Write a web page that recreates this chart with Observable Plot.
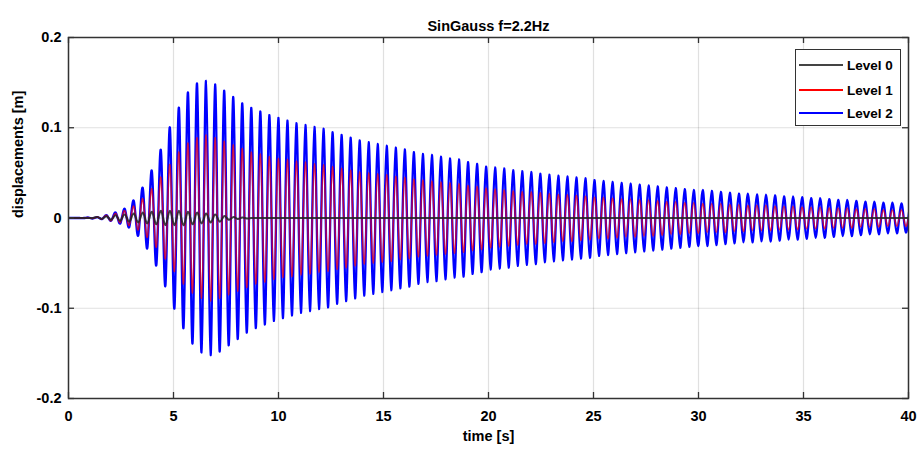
<!DOCTYPE html>
<html>
<head>
<meta charset="utf-8">
<script src="https://cdn.jsdelivr.net/npm/d3@7"></script>
<script src="https://cdn.jsdelivr.net/npm/@observablehq/plot@0.6"></script>
<style>
  html, body { margin: 0; padding: 0; background: #fff; }
  #wrap { position: relative; width: 924px; height: 464px; font-family: "Liberation Sans", Arial, sans-serif; }
  #legend { position: absolute; left: 795px; top: 49px; width: 106px; height: 77px; border: 1.5px solid #333; background: #fff; box-sizing: border-box; }
  .row { position: absolute; left: 3px; height: 20px; display: flex; align-items: center; }
  .sw { width: 44px; height: 2px; margin-right: 4px; }
  .lab { font-weight: bold; font-size: 13.5px; color: #000; }
</style>
</head>
<body>
<div id="wrap"></div>
<script>
// ---- data ----
const titleText = "SinGauss f=2.2Hz";
const xLabel = "time [s]";
const yLabel = "displacements [m]";
const seriesNames = ["Level 0", "Level 1", "Level 2"];
const seriesColors = ["#000000", "#ff0000", "#0000ff"];
const xTicks = [0, 5, 10, 15, 20, 25, 30, 35, 40];
const yTicks = [-0.2, -0.1, 0, 0.1, 0.2];
const yTickLabels = ["-0.2", "-0.1", "0", "0.1", "0.2"];

// oscillation: first positive peak time and period (s)
const firstPeak = 0.1;
const period = 0.43;

// peak amplitude of each cycle (m)
const level2Amp = [0,0,0.0005,0.001,0.003,0.006,0.010,0.019,0.033,0.052,
 0.075,0.100,0.122,0.139,0.149,0.152,0.148,0.141,0.134,0.127,
 0.122,0.118,0.114,0.111,0.108,0.105,0.103,0.101,0.099,0.095,
 0.092,0.089,0.086,0.084,0.082,0.080,0.078,0.076,0.073,0.071,
 0.070,0.068,0.066,0.065,0.062,0.060,0.057,0.056,0.055,0.053,
 0.052,0.051,0.049,0.048,0.047,0.046,0.045,0.044,0.042,0.041,
 0.040,0.039,0.038,0.037,0.036,0.035,0.034,0.033,0.032,0.031,
 0.031,0.030,0.029,0.028,0.027,0.027,0.026,0.026,0.025,0.024,
 0.024,0.023,0.022,0.022,0.021,0.020,0.020,0.019,0.018,0.018,
 0.017,0.017,0.016,0.016];
const level1Amp = [0,0,0.0004,0.001,0.003,0.005,0.008,0.013,0.021,0.032,
 0.045,0.059,0.073,0.083,0.089,0.092,0.089,0.085,0.081,0.077,
 0.073,0.071,0.068,0.066,0.065,0.063,0.062,0.060,0.059,0.057,
 0.055,0.053,0.051,0.050,0.049,0.048,0.046,0.045,0.043,0.042,
 0.041,0.040,0.039,0.038,0.036,0.035,0.033,0.032,0.031,0.030,
 0.029,0.029,0.028,0.027,0.026,0.026,0.025,0.024,0.023,0.023,
 0.022,0.021,0.021,0.020,0.020,0.019,0.018,0.018,0.017,0.017,
 0.016,0.016,0.016,0.015,0.015,0.014,0.014,0.014,0.013,0.013,
 0.013,0.012,0.012,0.012,0.011,0.011,0.011,0.010,0.010,0.010,
 0.009,0.009,0.009,0.009];
const level0Amp = [0,0,0,0.001,0.002,0.003,0.004,0.005,0.006,0.007,
 0.008,0.008,0.008,0.007,0.006,0.005,0.004,0.002,0.001,0.0005,
 0,0,0,0,0,0,0,0,0,0,
 0,0,0,0,0,0,0,0,0,0,
 0,0,0,0,0,0,0,0,0,0,
 0,0,0,0,0,0,0,0,0,0,
 0,0,0,0,0,0,0,0,0,0,
 0,0,0,0,0,0,0,0,0,0,
 0,0,0,0,0,0,0,0,0,0,
 0,0,0,0];

// build peak/trough table for each series
function toRows(amps, name) {
  const rows = [{t: 0, v: 0, s: name}];
  amps.forEach((a, k) => {
    rows.push({t: firstPeak + k * period, v: a, s: name});
    rows.push({t: firstPeak + (k + 0.5) * period, v: -a, s: name});
  });
  return rows;
}
const rows2 = toRows(level2Amp, seriesNames[2]);
const rows1 = toRows(level1Amp, seriesNames[1]);
const rows0 = toRows(level0Amp, seriesNames[0]);

const W = 924, H = 464;
const mL = 68, mR = 16, mT = 37, mB = 66;
const plotW = W - mL - mR, plotH = H - mT - mB;
const font = "Liberation Sans, Arial, sans-serif";

const chart = Plot.plot({
  width: W, height: H,
  marginLeft: mL, marginRight: mR, marginTop: mT, marginBottom: mB,
  style: {fontFamily: font, background: "#fff", overflow: "visible"},
  x: {domain: [0, 40]},
  y: {domain: [-0.2, 0.2]},
  marks: [
    Plot.gridX(xTicks, {stroke: "#000", strokeOpacity: 0.12, strokeWidth: 1.2}),
    Plot.gridY(yTicks, {stroke: "#000", strokeOpacity: 0.12, strokeWidth: 1.2}),
    Plot.line(rows2, {x: "t", y: "v", stroke: seriesColors[2], strokeWidth: 2.3, curve: "natural", clip: true}),
    Plot.line(rows1, {x: "t", y: "v", stroke: seriesColors[1], strokeWidth: 1.5, strokeOpacity: 0.7, curve: "natural", clip: true}),
    Plot.line(rows0, {x: "t", y: "v", stroke: "#222", strokeWidth: 2, strokeOpacity: 0.85, curve: "natural", clip: true}),
    // inward ticks (MATLAB box style)
    Plot.tickX(xTicks, {x: d => d, insetTop: plotH - 6, stroke: "#333", strokeWidth: 1.3}),
    Plot.tickX(xTicks, {x: d => d, insetBottom: plotH - 6, stroke: "#333", strokeWidth: 1.3}),
    Plot.tickY(yTicks, {y: d => d, insetRight: plotW - 6, stroke: "#333", strokeWidth: 1.3}),
    Plot.tickY(yTicks, {y: d => d, insetLeft: plotW - 6, stroke: "#333", strokeWidth: 1.3}),
    Plot.frame({stroke: "#333", strokeWidth: 1.5}),
    Plot.axisX(xTicks, {tickSize: 0, tickPadding: 12, fontSize: 14.5, fontWeight: "bold", label: null, tickFormat: d => String(d)}),
    Plot.axisY(yTicks, {tickSize: 0, tickPadding: 7, fontSize: 14.5, fontWeight: "bold", label: null, tickFormat: d => yTickLabels[yTicks.indexOf(d)]}),
    Plot.text([titleText], {frameAnchor: "top", dy: -17, fontSize: 14.5, fontWeight: "bold", fill: "#000"}),
    Plot.text([xLabel], {frameAnchor: "bottom", dy: 42, fontSize: 14.5, fontWeight: "bold", fill: "#000"}),
    Plot.text([yLabel], {frameAnchor: "left", dx: -50, rotate: -90, fontSize: 14.5, fontWeight: "bold", fill: "#000"})
  ]
});

const wrap = document.getElementById("wrap");
wrap.appendChild(chart);

// legend
const legend = document.createElement("div");
legend.id = "legend";
const tops = [5, 30, 53];
seriesNames.forEach((name, i) => {
  const row = document.createElement("div");
  row.className = "row";
  row.style.top = tops[i] + "px";
  const sw = document.createElement("span");
  sw.className = "sw";
  sw.style.background = i === 0 ? "#444" : seriesColors[i];
  const lab = document.createElement("span");
  lab.className = "lab";
  lab.textContent = name;
  row.appendChild(sw);
  row.appendChild(lab);
  legend.appendChild(row);
});
wrap.appendChild(legend);
</script>
</body>
</html>
